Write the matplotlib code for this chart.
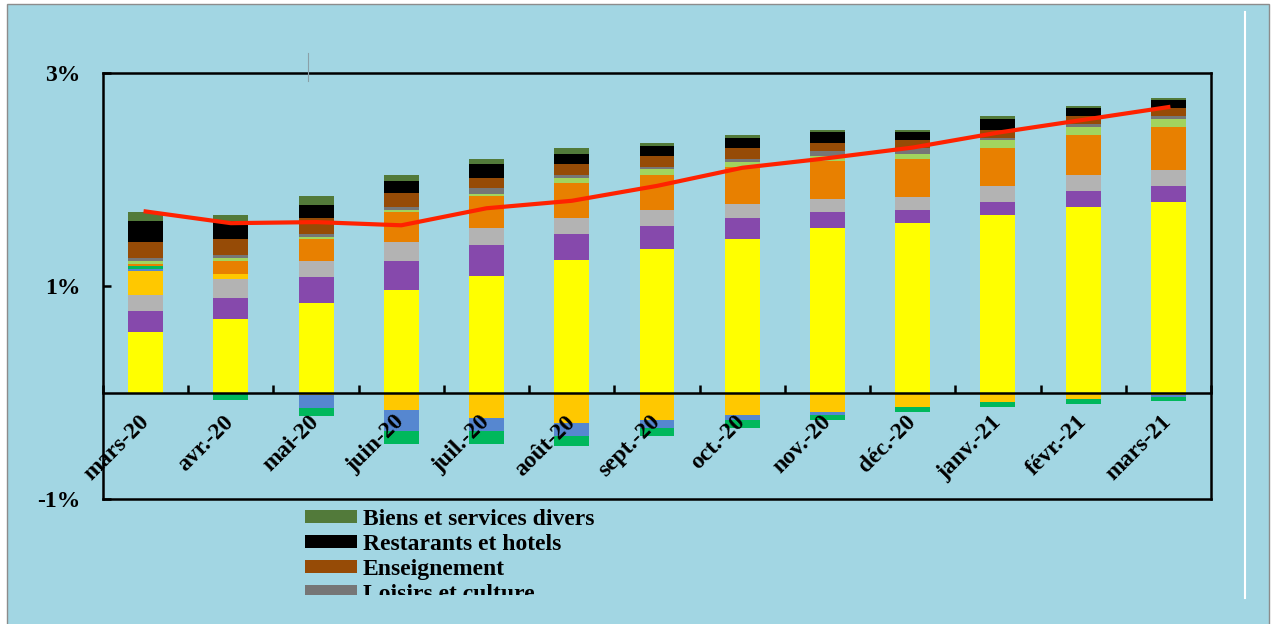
import numpy as np
import matplotlib
matplotlib.use("Agg")
from matplotlib import pyplot as plt
from matplotlib.patches import Rectangle, Patch
from matplotlib.lines import Line2D

plt.rcParams['font.family'] = ['Liberation Serif', 'DejaVu Serif']
plt.rcParams['font.weight'] = 'bold'

months = ['mars-20', 'avr.-20', 'mai-20', 'juin-20', 'juil.-20', 'août-20', 'sept.-20',
          'oct.-20', 'nov.-20', 'déc.-20', 'janv.-21', 'févr.-21', 'mars-21']

# contributions (points de %) par poste, du bas vers le haut de la pile
alimentation = [0.566, 0.688, 0.839, 0.967, 1.092, 1.242, 1.343, 1.443, 1.546, 1.593, 1.668, 1.743, 1.793]
tabac = [0.197, 0.204, 0.250, 0.272, 0.297, 0.250, 0.225, 0.200, 0.147, 0.125, 0.125, 0.150, 0.150]
habillement = [0.154, 0.175, 0.150, 0.178, 0.153, 0.150, 0.150, 0.128, 0.128, 0.122, 0.150, 0.150, 0.150]
logement = [0.222, 0.047, -0.020, -0.162, -0.235, -0.285, -0.260, -0.210, -0.185, -0.134, -0.085, -0.060, -0.020]
meubles = [0.022, 0.0, -0.128, -0.200, -0.128, -0.125, -0.075, -0.050, -0.025, 0.0, 0.0, 0.0, -0.025]
sante = [0.025, -0.075, -0.069, -0.118, -0.118, -0.097, -0.075, -0.075, -0.050, -0.050, -0.050, -0.050, -0.037]
transport = [0.025, 0.125, 0.200, 0.275, 0.300, 0.322, 0.326, 0.350, 0.350, 0.354, 0.350, 0.376, 0.400]
communication = [0.028, 0.028, 0.025, 0.025, 0.025, 0.053, 0.050, 0.047, 0.047, 0.050, 0.075, 0.075, 0.075]
loisirs = [0.025, 0.028, 0.025, 0.028, 0.053, 0.028, 0.028, 0.028, 0.053, 0.053, 0.025, 0.025, 0.025]
enseignement = [0.153, 0.144, 0.150, 0.125, 0.097, 0.097, 0.100, 0.097, 0.072, 0.072, 0.075, 0.075, 0.075]
restaurants = [0.197, 0.175, 0.125, 0.113, 0.125, 0.100, 0.097, 0.100, 0.100, 0.075, 0.100, 0.075, 0.075]
divers = [0.078, 0.053, 0.078, 0.056, 0.050, 0.050, 0.025, 0.025, 0.025, 0.025, 0.025, 0.025, 0.025]

inflation = [1.70, 1.59, 1.60, 1.57, 1.73, 1.80, 1.94, 2.11, 2.20, 2.30, 2.44, 2.56, 2.68]

series = [alimentation, tabac, habillement, logement, meubles, sante, transport,
          communication, loisirs, enseignement, restaurants, divers]
colors = ['#FFFF00', '#8649AC', '#B3B3B3', '#FFC800', '#5687D0', '#00B85C', '#E88000',
          '#A2D45E', '#767676', '#964B06', '#000000', '#527A3A']

legend_labels = ['Biens et services divers', 'Restarants et hotels', 'Enseignement', 'Loisirs et culture']
legend_colors = ['#527A3A', '#000000', '#964B06', '#767676']

bg = '#A2D6E3'
W, H = 1271, 624

fig = plt.figure(figsize=(W / 100, H / 100), dpi=100)
fig.patch.set_facecolor('white')
fig.patches.append(Rectangle((7 / W, -0.01), (1269 - 7) / W, 1 - 4 / H + 0.01, transform=fig.transFigure,
                             facecolor=bg, edgecolor='#8C8C8C', lw=1, zorder=-5))

ax = fig.add_axes([103 / W, 125 / H, 1108 / W, 426 / H])
ax.set_facecolor('none')
ax.set_axisbelow(False)

x = np.arange(len(months))
pos = np.zeros(len(months))
neg = np.zeros(len(months))
for vals, c in zip(series, colors):
    v = np.array(vals)
    bottom = np.where(v >= 0, pos, neg)
    ax.bar(x, v, 0.41, bottom=bottom, color=c, edgecolor='none', zorder=1.5)
    pos = pos + np.clip(v, 0, None)
    neg = neg + np.clip(v, None, 0)

ax.plot(x, inflation, color='#FF2200', lw=3, zorder=5)

ax.set_xlim(-0.5, len(months) - 0.5)
ax.set_ylim(-1, 3)

for s in ax.spines.values():
    s.set_linewidth(1.8)
ax.spines['bottom'].set_position(('data', 0))
ax.plot([0, 1], [0, 0], transform=ax.transAxes, color='black', lw=1.8, clip_on=False, solid_capstyle='projecting')

ax.set_yticks([-1, 1, 3])
ax.set_yticklabels(['-1%', '1%', '3%'], fontsize=17, fontweight='bold')
ax.tick_params(axis='y', direction='in', length=6, width=1.8, pad=16)

ax.set_xticks(x)
ax.set_xticks(np.arange(-0.5, len(months), 1), minor=True)
ax.set_xticklabels(months, fontsize=17, fontweight='bold')
ax.tick_params(axis='x', which='major', length=0, pad=19)
ax.tick_params(axis='x', which='minor', direction='in', length=6, width=1.8)
for lab in ax.get_xticklabels():
    lab.set_rotation(45)
    lab.set_ha('right')
    lab.set_va('center')
    lab.set_rotation_mode('anchor')

handles = [Patch(facecolor=c) for c in legend_colors]
fig.legend(handles, legend_labels, loc='upper left', bbox_to_anchor=(305 / W, 1 - 509 / H),
           frameon=False, prop={'family': 'Liberation Serif', 'weight': 'bold', 'size': 17},
           handlelength=2.2, handleheight=0.5, handletextpad=0.25, labelspacing=0.17,
           borderpad=0, borderaxespad=0)

# bas de la légende masqué
fig.patches.append(Rectangle((290 / W, -0.01), 350 / W, (H - 595) / H + 0.01, transform=fig.transFigure,
                             facecolor=bg, edgecolor='none', zorder=10))

fig.add_artist(Line2D([1245 / W] * 2, [1 - 12 / H, 1 - 598 / H], color='white', lw=1.5))
fig.add_artist(Line2D([308 / W] * 2, [1 - 53 / H, 1 - 81 / H], color='#8AA0A8', lw=0.8))

fig.savefig('out.png', dpi=100, facecolor=fig.get_facecolor())
